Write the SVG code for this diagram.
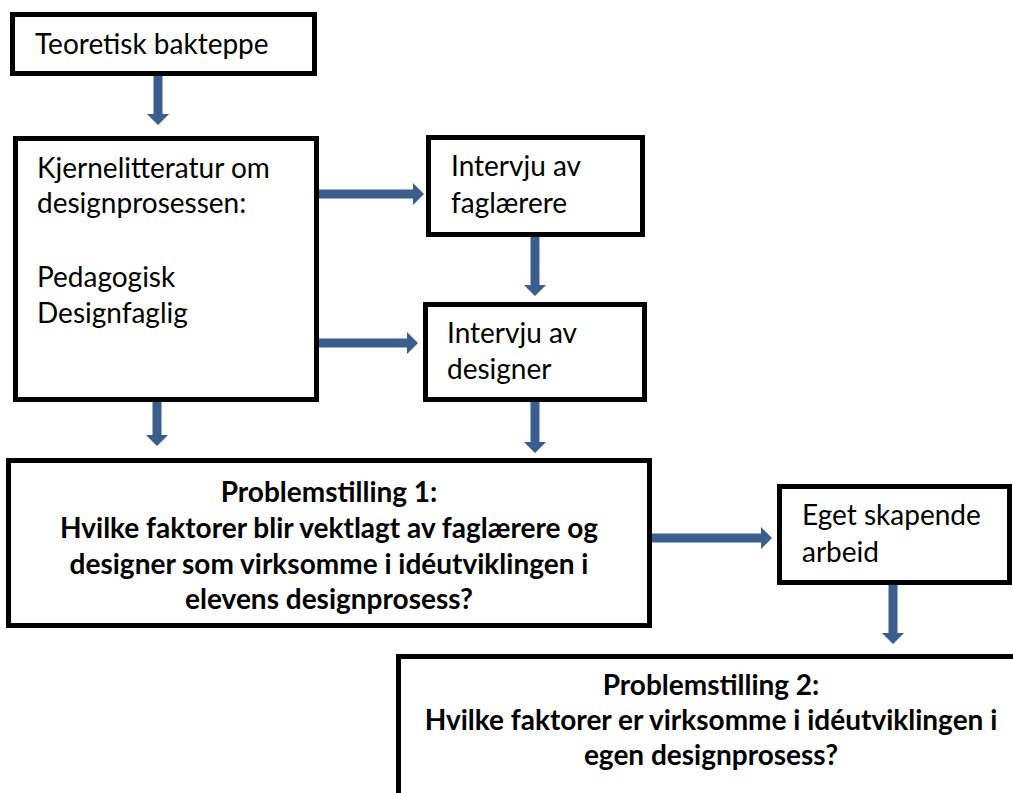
<svg xmlns="http://www.w3.org/2000/svg" width="1013" height="793" viewBox="0 0 1013 793">
<style>
.box{fill:#fff;stroke:#000;stroke-width:5}
.t{font-family:Lato,"Liberation Sans",sans-serif;font-size:28px;fill:#000}
.b{font-family:Lato,"Liberation Sans",sans-serif;font-size:28px;font-weight:bold;fill:#000;text-anchor:middle}
.arr{fill:#3B5E8C}
</style>
<rect width="1013" height="793" fill="#fff"/>
<g id="connectors">
<polygon class="arr" points="153.5,76 162.5,76 162.5,114 169,114 158,125 147,114 153.5,114"/>
<polygon class="arr" points="319,189.5 413,189.5 413,183 424,194 413,205 413,198.5 319,198.5"/>
<polygon class="arr" points="319,338.5 407,338.5 407,332 418,343 407,354 407,347.5 319,347.5"/>
<polygon class="arr" points="152.5,402 161.5,402 161.5,435 168,435 157,446 146,435 152.5,435"/>
<polygon class="arr" points="530.5,237 539.5,237 539.5,285 546,285 535,296 524,285 530.5,285"/>
<polygon class="arr" points="530.5,402 539.5,402 539.5,442 546,442 535,453 524,442 530.5,442"/>
<polygon class="arr" points="652,533.5 761,533.5 761,527 772,538 761,549 761,542.5 652,542.5"/>
<polygon class="arr" points="888.5,585 897.5,585 897.5,633 904,633 893,644 882,633 888.5,633"/>
</g>
<g id="n1"><rect class="box" x="12.5" y="14.5" width="302" height="59"/><text class="t" x="35" y="54">Teoretisk bakteppe</text></g>
<g id="n2"><rect class="box" x="15.5" y="138.5" width="301" height="261"/>
<text class="t" x="37" y="178">Kjernelitteratur om</text>
<text class="t" x="37" y="213">designprosessen:</text>
<text class="t" x="37" y="287">Pedagogisk</text>
<text class="t" x="37" y="323">Designfaglig</text></g>
<g id="n3"><rect class="box" x="428.5" y="137.5" width="214" height="97"/>
<text class="t" x="451" y="176">Intervju av</text>
<text class="t" x="451" y="213">faglærere</text></g>
<g id="n4"><rect class="box" x="425.5" y="304.5" width="219" height="95"/>
<text class="t" x="447" y="343">Intervju av</text>
<text class="t" x="447" y="379">designer</text></g>
<g id="n5"><rect class="box" x="8.5" y="460.5" width="641" height="165"/>
<text class="b" x="329" y="502">Problemstilling 1:</text>
<text class="b" x="329" y="538">Hvilke faktorer blir vektlagt av faglærere og</text>
<text class="b" x="329" y="574">designer som virksomme i idéutviklingen i</text>
<text class="b" x="329" y="609">elevens designprosess?</text></g>
<g id="n6"><rect class="box" x="779.5" y="486.5" width="230" height="96"/>
<text class="t" x="802" y="525">Eget skapende</text>
<text class="t" x="802" y="562">arbeid</text></g>
<g id="n7"><rect class="box" x="398.5" y="656.5" width="700" height="200"/>
<text class="b" x="711" y="695">Problemstilling 2:</text>
<text class="b" x="711" y="730">Hvilke faktorer er virksomme i idéutviklingen i</text>
<text class="b" x="711" y="765">egen designprosess?</text></g>
</svg>
